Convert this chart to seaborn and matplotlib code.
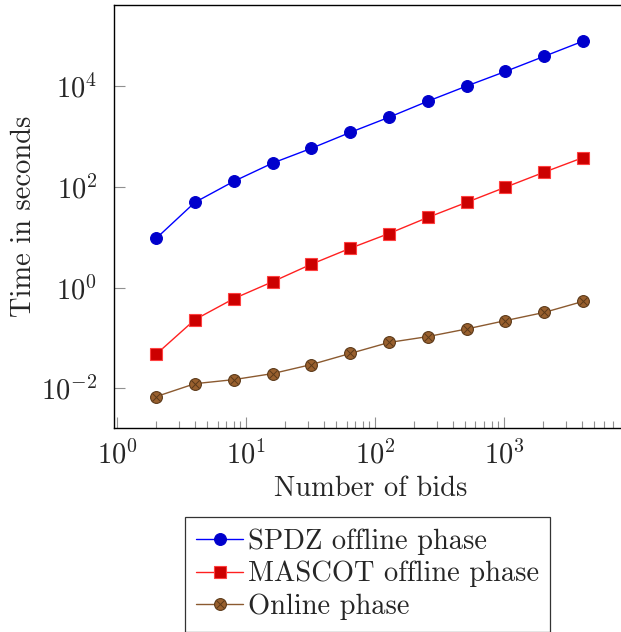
import numpy as np
import pandas as pd
import matplotlib
matplotlib.use("Agg")
import matplotlib.pyplot as plt
import seaborn as sns

bids = [2, 4, 8, 16, 32, 64, 128, 256, 512, 1024, 2048, 4096]
spdz = [9.4, 49, 128, 295, 580, 1200, 2400, 5000, 10000, 19500, 39000, 78000]
mascot = [0.047, 0.23, 0.6, 1.3, 2.9, 6.0, 11.8, 24.6, 49, 98, 195, 380]
online = [0.0068, 0.0123, 0.0148, 0.0195, 0.0295, 0.049, 0.081, 0.106, 0.15, 0.22, 0.32, 0.53]
labels = ["SPDZ offline phase", "MASCOT offline phase", "Online phase"]

sns.set_theme(style="white")
plt.rcParams["font.family"] = ["cmr10", "DejaVu Serif"]
plt.rcParams["mathtext.fontset"] = "cm"
plt.rcParams["axes.formatter.use_mathtext"] = True

fig = plt.figure(figsize=(6.21, 6.32), dpi=100)
ax = fig.add_axes([114 / 621, 204 / 632, 512.6 / 621, 423 / 632])

df_s = pd.DataFrame({"x": bids, "y": spdz})
df_m = pd.DataFrame({"x": bids, "y": mascot})
df_o = pd.DataFrame({"x": bids, "y": online})

sns.lineplot(data=df_s, x="x", y="y", ax=ax, color="#0000FF", lw=1.0,
             marker="o", markersize=8.5, markerfacecolor="#0000CC",
             markeredgecolor="#0000CC", markeredgewidth=0.8)
sns.lineplot(data=df_m, x="x", y="y", ax=ax, color="#FF2020", lw=1.0,
             marker="s", markersize=8, markerfacecolor="#CC0000",
             markeredgecolor="#FF4040", markeredgewidth=0.8)
sns.lineplot(data=df_o, x="x", y="y", ax=ax, color="#8B5A30", lw=1.0,
             marker="o", markersize=8.5, markerfacecolor="#99602E",
             markeredgecolor="#5C3A1A", markeredgewidth=0.8)
sns.lineplot(data=df_o, x="x", y="y", ax=ax, lw=0, marker="x", markersize=5.5,
             markeredgecolor="#5C3A1A", markeredgewidth=0.7, color="#5C3A1A")

lines = ax.get_lines()
handles = [lines[0], lines[1], (lines[2], lines[3])]

ax.set_xscale("log")
ax.set_yscale("log")
ax.set_xlim(10 ** -0.025, 10 ** 3.95)
ax.set_ylim(10 ** -2.79, 10 ** 5.61)

ax.set_xticks([1, 10, 100, 1000])
ax.set_yticks([1e-2, 1, 1e2, 1e4])
ax.xaxis.set_minor_locator(matplotlib.ticker.LogLocator(base=10, subs=np.arange(2, 10), numticks=20))
ax.yaxis.set_minor_locator(matplotlib.ticker.NullLocator())
ax.tick_params(axis="both", which="major", direction="in", length=8, width=0.8,
               color="#909090", labelsize=20.5)
ax.tick_params(axis="y", which="major", pad=12)
ax.tick_params(axis="x", which="major", pad=9)
ax.tick_params(axis="x", which="minor", direction="in", length=5, width=0.8,
               color="#909090", bottom=True)
ax.tick_params(left=True, bottom=True, top=False, right=False)

for s in ax.spines.values():
    s.set_color("black")
    s.set_linewidth(1.0)

ax.set_xlabel("Number of bids", fontsize=20.5, labelpad=4)
ax.set_ylabel("Time in seconds", fontsize=20.5, labelpad=3)

leg = ax.legend(handles, labels, loc="upper center", bbox_to_anchor=(0.4945, -0.21),
                fontsize=20.5, frameon=True, fancybox=False, edgecolor="black",
                handlelength=1.65, handletextpad=0.15, borderpad=0.4, labelspacing=0.22,
                borderaxespad=0)
leg.get_frame().set_linewidth(0.9)

fig.savefig("out.png", dpi=100)
